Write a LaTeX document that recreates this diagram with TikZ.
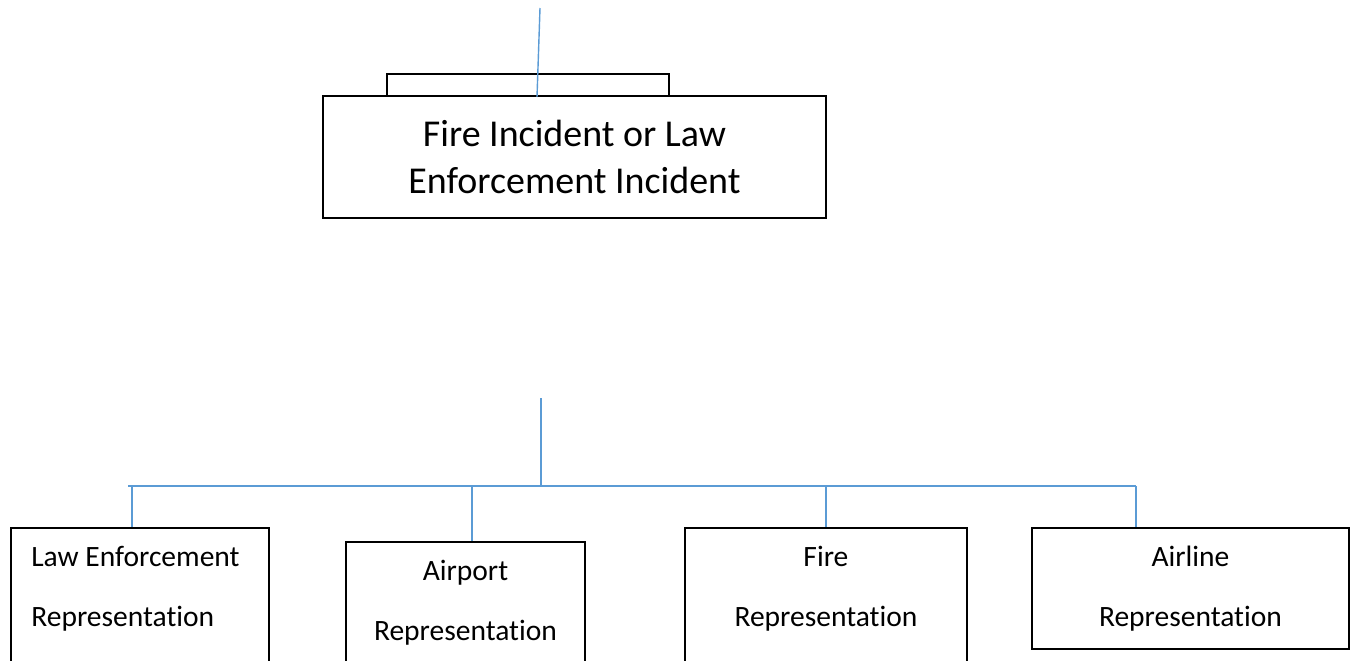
\documentclass[tikz,border=0pt]{standalone}
\usepackage{fontspec}
\setmainfont{Carlito}[Ligatures=NoCommon]
\usetikzlibrary{positioning}
\definecolor{linkblue}{RGB}{91,155,213}

\begin{document}
\begin{tikzpicture}[x=0.02cm, y=-0.02cm,
    box/.style={draw, line width=1.1pt, rectangle, inner sep=0pt},
    link/.style={draw=linkblue, line width=0.8pt},
    lbl/.style={font=\fontsize{16.8}{34}\selectfont, align=center, inner sep=0pt}]

    \useasboundingbox (0,0) rectangle (1352,660);
    \clip (0,0) rectangle (1352,660);

    % incident boxes
    \node[box, anchor=north west, minimum width=5.64cm, minimum height=1.2cm] (back) at (386,73) {};
    \node[box, fill=white, minimum width=10.06cm, minimum height=2.44cm,
          font=\fontsize{21.6}{26.7}\selectfont, align=center] (incident) at (574.5,157)
          {Fire Incident or Law\\Enforcement Incident};
    \coordinate (feed) at (540,8);
    \coordinate (feedend) at (537,97);
    \draw[link] (feed) -- (feedend);

    % representation boxes
    \node[box, anchor=north west, minimum width=5.16cm, minimum height=3cm] (law) at (10,527) {};
    \node[box, anchor=north west, minimum width=4.78cm, minimum height=3cm] (airport) at (345,541) {};
    \node[box, anchor=north west, minimum width=5.64cm, minimum height=3cm] (fire) at (684,527) {};
    \node[box, anchor=north west, minimum width=6.34cm, minimum height=2.42cm] (airline) at (1031,527) {};

    \node[lbl, align=left, below right=0.38cm and 0.42cm of law.north west] (lawtxt) {Law Enforcement\\Representation};
    \node[lbl, below=0.38cm of airport.north] (airporttxt) {Airport\\Representation};
    \node[lbl, below=0.38cm of fire.north] (firetxt) {Fire\\Representation};
    \node[lbl, below=0.38cm of airline.north] (airlinetxt) {Airline\\Representation};

    % connectors
    \coordinate (stem) at (541,398);
    \coordinate (hub) at (541,486);
    \coordinate (busleft) at (128,486);
    \coordinate (busright) at (1136,486);
    \draw[link] (stem) -- (hub);
    \draw[link] (busleft) -- (busright);
    \foreach \x/\b in {132/law, 472/airport, 826/fire, 1136/airline}{
        \coordinate (d\b) at (\x,486);
        \draw[link] (d\b) -- (d\b |- \b.north);
    }
\end{tikzpicture}
\end{document}
